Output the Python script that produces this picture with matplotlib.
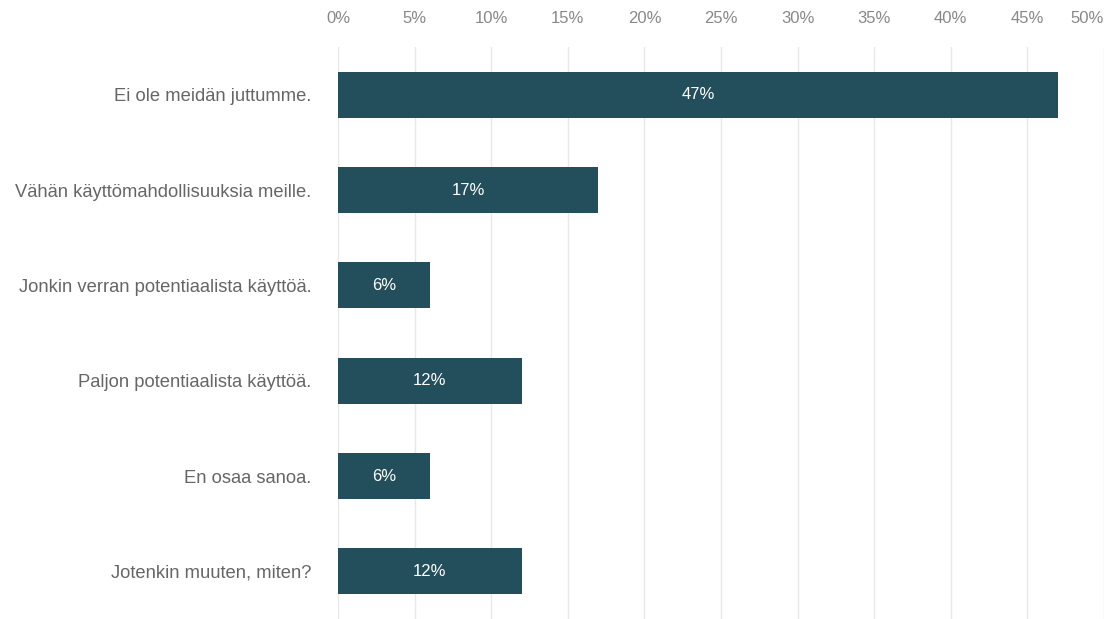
import matplotlib.pyplot as plt

plt.rcParams['font.family'] = ['Liberation Sans', 'DejaVu Sans']

categories = [
    "Ei ole meidän juttumme.",
    "Vähän käyttömahdollisuuksia meille.",
    "Jonkin verran potentiaalista käyttöä.",
    "Paljon potentiaalista käyttöä.",
    "En osaa sanoa.",
    "Jotenkin muuten, miten?",
]
values = [47, 17, 6, 12, 6, 12]
x_ticks = [0, 5, 10, 15, 20, 25, 30, 35, 40, 45, 50]
x_labels = [f"{t}%" for t in x_ticks]

bar_color = "#234e5b"

fig = plt.figure(figsize=(11.12, 6.19), dpi=100)
ax = fig.add_axes([0.304, 0.0, 0.6888, 0.924])

y = list(range(len(categories)))
ax.barh(y, values, height=0.48, color=bar_color, zorder=3)

for yi, v in zip(y, values):
    ax.text(v / 2, yi, f"{v}%", ha="center", va="center", color="white",
            fontsize=12, zorder=4)

ax.set_xlim(0, 50)
ax.set_ylim(len(categories) - 0.5, -0.5)
ax.set_yticks(y)
ax.set_yticklabels(categories)

ax.set_xticks(x_ticks)
ax.set_xticklabels(x_labels)
ax.xaxis.tick_top()
ax.tick_params(axis="x", length=0, pad=15, labelsize=12, labelcolor="#888888")
ax.tick_params(axis="y", length=0, pad=19, labelsize=13.2, labelcolor="#666666")

last = ax.get_xticklabels()[-1]
last.set_horizontalalignment("right")

ax.grid(axis="x", color="#e8e8e8", linewidth=1, zorder=0)
for s in ax.spines.values():
    s.set_visible(False)

fig.savefig("out.png", dpi=100)
